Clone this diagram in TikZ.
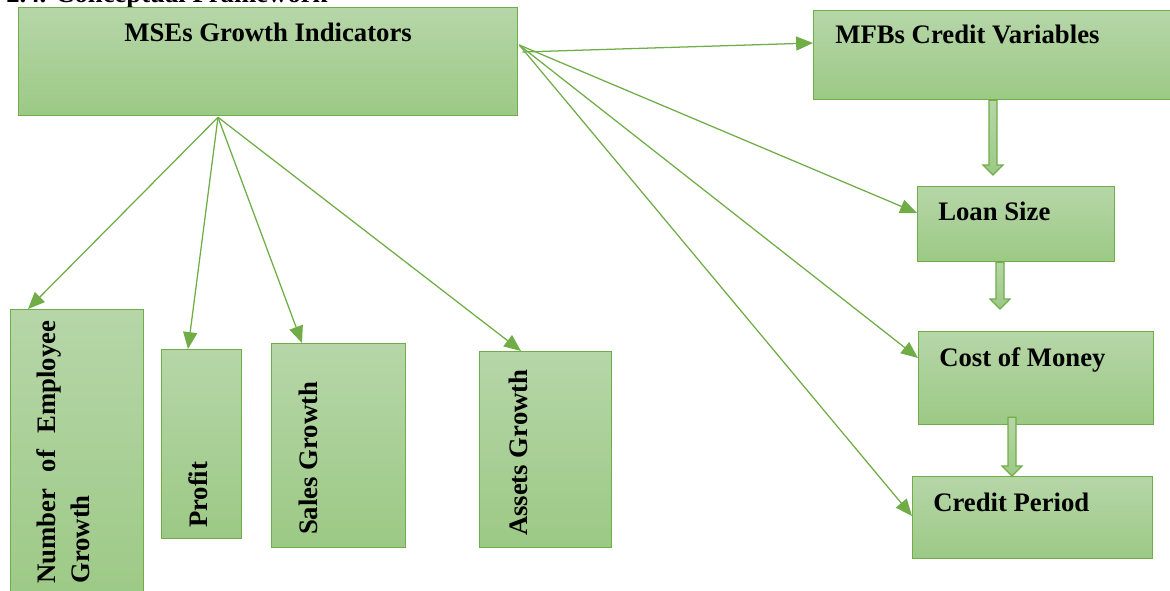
\documentclass[tikz,border=0pt]{standalone}
\usepackage{fontspec}
\setmainfont{Liberation Serif}
\usetikzlibrary{calc,arrows.meta}
\definecolor{framegreen}{HTML}{70AD47}
\definecolor{boxtop}{HTML}{B6D6A8}
\definecolor{boxbottom}{HTML}{9CC985}
\newcommand\px{0.025cm}
\tikzset{
  box/.style={draw=framegreen, line width=0.9pt, top color=boxtop, bottom color=boxbottom, inner sep=0pt, anchor=north west},
  boxtext/.style={font=\bfseries\fontsize{19}{24.5}\selectfont, inner sep=0pt},
  link/.style={draw=framegreen, line width=0.9pt, -{Triangle[length=12pt,width=10pt]}},
  blockarrow/.style={draw=framegreen, line width=0.8pt, top color=boxtop, bottom color=boxbottom, line join=miter}
}

\begin{document}
\begin{tikzpicture}[x=\px, y=-\px]
  \useasboundingbox (0,0) rectangle (1170,591);
  \clip (0,0) rectangle (1170,591);
  % heading, cut off by the page top
  \node[boxtext, anchor=base west] (heading) at (6,3) {2.4. Conceptual Framework};
  % boxes
  \node[box, minimum width=499*\px, minimum height=108*\px] (mse) at (18,7) {};
  \node[box, minimum width=370*\px, minimum height=89*\px] (mfb) at (813,10) {};
  \node[box, minimum width=197*\px, minimum height=75*\px] (loan) at (917,186) {};
  \node[box, minimum width=235*\px, minimum height=93*\px] (cost) at (918,331) {};
  \node[box, minimum width=240*\px, minimum height=82*\px] (credit) at (912,476) {};
  \node[box, minimum width=133*\px, minimum height=300*\px] (employee) at (10,309) {};
  \node[box, minimum width=80*\px, minimum height=189*\px] (profit) at (161,349) {};
  \node[box, minimum width=134*\px, minimum height=204*\px] (sales) at (271,343) {};
  \node[box, minimum width=132*\px, minimum height=196*\px] (assets) at (479,351) {};
  % labels
  \node[boxtext, anchor=base] (mselabel) at ($(mse.north)+(0,35)$) {MSEs Growth Indicators};
  \node[boxtext, anchor=base west] (mfblabel) at ($(mfb.north west)+(22,34)$) {MFBs Credit Variables};
  \node[boxtext, anchor=base west] (loanlabel) at ($(loan.north west)+(21,34)$) {Loan Size};
  \node[boxtext, anchor=base west] (costlabel) at ($(cost.north west)+(21,35)$) {Cost of Money};
  \node[boxtext, anchor=base west] (creditlabel) at ($(credit.north west)+(21,35)$) {Credit Period};
  \node[boxtext, anchor=south west, rotate=90, align=left] (employeelabel) at ($(employee.north west)+(80,275)$)
    {\makebox[6.575cm][s]{Number of Employee}\\Growth};
  \node[boxtext, anchor=base west, rotate=90] (profitlabel) at ($(profit.south west)+(46,-11)$) {Profit};
  \node[boxtext, anchor=base west, rotate=90] (saleslabel) at ($(sales.south west)+(46,-13)$) {Sales Growth};
  \node[boxtext, anchor=base west, rotate=90] (assetslabel) at ($(assets.south west)+(48,-12)$) {Assets Growth};
  % thin arrows
  \coordinate (msebottom) at ($(mse.south west)+(200,1)$);
  \coordinate (mseright) at ($(mse.north east)+(1,38)$);
  \coordinate (mseright2) at ($(mse.north east)+(4,45)$);
  \foreach \tgt/\dx in {employee/18, profit/27, sales/31, assets/42} {
    \draw[link] (msebottom) -- ($(\tgt.north west)+(\dx,0)$);
  }
  \draw[link] (mseright2) -- ($(mfb.north west)+(0,33)$);
  \foreach \tgt/\dy in {loan/27, cost/27, credit/40} {
    \draw[link] (mseright) -- ($(\tgt.north west)+(0,\dy)$);
  }
  % block arrows down the right column
  \coordinate (mfbout) at ($(mfb.south west)+(180,0)$);
  \coordinate (loanin) at ($(loan.north west)+(76,-11)$);
  \coordinate (loanout) at ($(loan.south west)+(83,0)$);
  \coordinate (costin) at ($(cost.north west)+(82,-22)$);
  \coordinate (costout) at ($(cost.south west)+(94,-8)$);
  \coordinate (creditin) at ($(credit.north west)+(100,0)$);
  \foreach \s/\t in {mfbout/loanin, loanout/costin, costout/creditin} {
    \draw[blockarrow] ($(\s)+(-4,0)$) -- ($(\t)+(-4,-10)$) -- ($(\t)+(-10,-10)$) -- (\t)
      -- ($(\t)+(10,-10)$) -- ($(\t)+(4,-10)$) -- ($(\s)+(4,0)$) -- cycle;
  }
\end{tikzpicture}
\end{document}
